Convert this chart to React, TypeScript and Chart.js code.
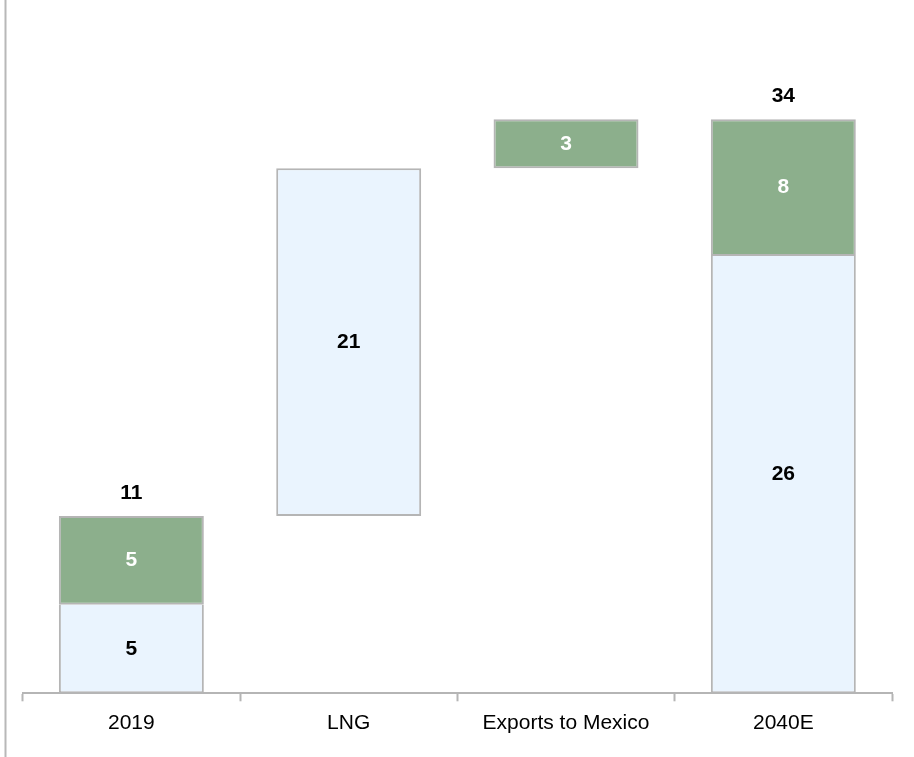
import React, { useEffect, useRef } from 'react';
import { Chart, registerables } from 'chart.js';

Chart.register(...registerables);

// ---- data ----
const categories = ['2019', 'LNG', 'Exports to Mexico', '2040E'];
const columnKinds = ['total', 'delta', 'delta', 'total'];
const blueValues: (number | null)[] = [5.25, 20.6, null, 25.9];
const greenValues: (number | null)[] = [5.25, null, 2.9, 8.1];

const BLUE = '#eaf4fe';
const GREEN = '#8caf8c';
const EDGE = '#b5b5b5';
const FONT = '"Liberation Sans", Arial, sans-serif';

function buildRanges() {
  const blue: ([number, number] | null)[] = [];
  const green: ([number, number] | null)[] = [];
  let running = 0;
  categories.forEach((_, i) => {
    const b = blueValues[i];
    const g = greenValues[i];
    if (columnKinds[i] === 'total') {
      const bv = b ?? 0;
      const gv = g ?? 0;
      blue.push(b == null ? null : [0, bv]);
      green.push(g == null ? null : [bv, bv + gv]);
      running = bv + gv;
    } else {
      if (b != null) {
        blue.push([running, running + b]);
        running += b;
      } else blue.push(null);
      if (g != null) {
        green.push([running, running + g]);
        running += g;
      } else green.push(null);
    }
  });
  return { blue, green };
}

const labelPlugin = {
  id: 'wfLabels',
  afterDatasetsDraw(chart: any) {
    const ctx = chart.ctx;
    ctx.save();
    ctx.textAlign = 'center';
    ctx.textBaseline = 'middle';
    ctx.font = `bold 21px ${FONT}`;
    const series = [blueValues, greenValues];
    const colors = ['#000000', '#ffffff'];
    const tops: { [k: number]: number } = {};
    series.forEach((vals, di) => {
      const meta = chart.getDatasetMeta(di);
      meta.data.forEach((el: any, i: number) => {
        const v = vals[i];
        if (v == null) return;
        const top = Math.min(el.y, el.base);
        const bottom = Math.max(el.y, el.base);
        ctx.fillStyle = colors[di];
        ctx.fillText(String(Math.round(v)), el.x, (top + bottom) / 2);
        tops[i] = tops[i] == null ? top : Math.min(tops[i], top);
      });
    });
    categories.forEach((_, i) => {
      if (columnKinds[i] !== 'total') return;
      const total = (blueValues[i] ?? 0) + (greenValues[i] ?? 0);
      const meta = chart.getDatasetMeta(0);
      const el = meta.data[i];
      ctx.fillStyle = '#000000';
      ctx.fillText(String(Math.round(total)), el.x, tops[i] - 23);
    });
    ctx.restore();
  },
};

const frameLinePlugin = {
  id: 'frameLine',
  afterDraw(chart: any) {
    const ctx = chart.ctx;
    ctx.save();
    ctx.strokeStyle = '#b8b8b8';
    ctx.lineWidth = 2;
    ctx.beginPath();
    ctx.moveTo(5.5, 0);
    ctx.lineTo(5.5, chart.height);
    ctx.stroke();
    ctx.restore();
  },
};

export default function App() {
  const ref = useRef<HTMLCanvasElement | null>(null);
  useEffect(() => {
    document.body.style.margin = '0';
    const canvas = ref.current;
    if (!canvas) return;
    const { blue, green } = buildRanges();
    const blueBorders = categories.map((_, i) =>
      columnKinds[i] === 'total' && greenValues[i] != null
        ? { top: 0, left: 2, right: 2, bottom: 2 }
        : 2
    );
    const chart = new Chart(canvas, {
      type: 'bar',
      data: {
        labels: categories,
        datasets: [
          {
            label: 'base',
            data: blue as any,
            backgroundColor: BLUE,
            borderColor: EDGE,
            borderWidth: blueBorders as any,
            borderSkipped: false,
            grouped: false,
            barPercentage: 0.667,
            categoryPercentage: 1,
          },
          {
            label: 'green',
            data: green as any,
            backgroundColor: GREEN,
            borderColor: EDGE,
            borderWidth: 2,
            borderSkipped: false,
            grouped: false,
            barPercentage: 0.667,
            categoryPercentage: 1,
          },
        ],
      },
      options: {
        responsive: false,
        animation: false,
        devicePixelRatio: 1,
        layout: { padding: { top: 18, left: 22.7, right: 22, bottom: 12.5 } },
        plugins: { legend: { display: false }, tooltip: { enabled: false } },
        scales: {
          x: {
            grid: {
              display: true,
              drawOnChartArea: false,
              drawTicks: true,
              tickLength: 8,
              tickWidth: 2,
              tickColor: '#b5b5b5',
              offset: true,
            },
            border: { display: true, color: '#b5b5b5', width: 2 },
            ticks: {
              color: '#000000',
              padding: 9,
              font: { family: FONT, size: 21 },
              maxRotation: 0,
              autoSkip: false,
            },
          },
          y: { display: false, min: 0, max: 40 },
        },
      },
      plugins: [labelPlugin, frameLinePlugin],
    });
    return () => chart.destroy();
  }, []);
  return <canvas ref={ref} width={914} height={757} style={{ display: 'block', width: 914, height: 757 }} />;
}
